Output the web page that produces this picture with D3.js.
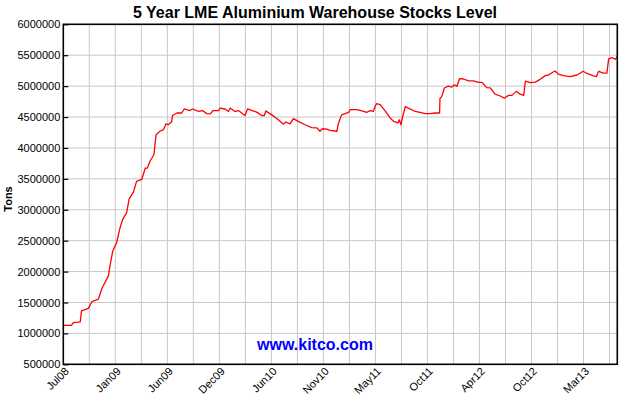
<!DOCTYPE html>
<html>
<head>
<meta charset="utf-8">
<script src="https://cdn.jsdelivr.net/npm/d3@7"></script>
<style>
  body { margin: 0; background: #fff; }
  svg { display: block; font-family: "Liberation Sans", Arial, sans-serif; }
</style>
</head>
<body>
<svg id="chart" width="630" height="400"></svg>
<script>
// trading-day index (60 per grid column) and stock level in tons
const days = [
  0, 19, 23, 39, 42, 58, 66, 81, 89, 104, 109, 114, 123, 131, 137, 146, 152, 162, 169, 181,
  189, 194, 200, 209, 214, 223, 231, 237, 242, 250, 252, 262, 273, 279, 292, 298, 312, 321, 331, 339,
  346, 358, 362, 373, 381, 385, 396, 404, 419, 425, 436, 446, 458, 464, 467, 481, 496, 508, 513, 523,
  531, 542, 558, 573, 585, 592, 598, 608, 615, 631, 635, 642, 650, 658, 662, 677, 689, 700, 708, 715,
  722, 731, 742, 754, 762, 772, 775, 779, 783, 789, 796, 812, 823, 835, 846, 858, 868, 869, 873, 879,
  888, 896, 902, 908, 914, 923, 935, 946, 958, 966, 977, 985, 996, 1008, 1017, 1027, 1035, 1045, 1054, 1062,
  1066, 1077, 1089, 1100, 1112, 1119, 1134, 1142, 1154, 1169, 1185, 1199, 1208, 1223, 1230, 1235, 1246, 1254, 1258, 1266,
  1273, 1278
];
const tons = [
  1130000, 1130000, 1175000, 1185000, 1365000, 1405000, 1515000, 1555000, 1725000, 1930000,
  2145000, 2330000, 2470000, 2710000, 2845000, 2950000, 3175000, 3290000, 3460000, 3490000,
  3675000, 3675000, 3785000, 3890000, 4215000, 4270000, 4295000, 4390000, 4375000, 4425000,
  4525000, 4565000, 4565000, 4630000, 4605000, 4630000, 4590000, 4605000, 4555000, 4550000,
  4605000, 4605000, 4645000, 4630000, 4590000, 4645000, 4590000, 4605000, 4525000, 4630000,
  4605000, 4580000, 4525000, 4525000, 4600000, 4535000, 4455000, 4385000, 4420000, 4390000,
  4475000, 4430000, 4375000, 4330000, 4325000, 4270000, 4310000, 4305000, 4285000, 4270000,
  4405000, 4535000, 4555000, 4575000, 4620000, 4620000, 4600000, 4575000, 4605000, 4590000,
  4715000, 4700000, 4605000, 4485000, 4430000, 4405000, 4455000, 4375000, 4510000, 4670000,
  4645000, 4590000, 4575000, 4555000, 4555000, 4565000, 4565000, 4805000, 4830000, 4970000,
  5000000, 4985000, 5020000, 4995000, 5120000, 5115000, 5085000, 5085000, 5060000, 5060000,
  4975000, 4970000, 4870000, 4840000, 4805000, 4850000, 4850000, 4915000, 4870000, 4850000,
  5080000, 5055000, 5065000, 5110000, 5170000, 5180000, 5245000, 5195000, 5170000, 5155000,
  5180000, 5240000, 5205000, 5165000, 5155000, 5240000, 5210000, 5210000, 5440000, 5460000,
  5435000, 5475000
];
const monthLabels = ["Jul08", "Jan09", "Jun09", "Dec09", "Jun10", "Nov10", "May11", "Oct11", "Apr12", "Oct12", "Mar13"];
const yTicks = [500000, 1000000, 1500000, 2000000, 2500000, 3000000, 3500000, 4000000, 4500000, 5000000, 5500000, 6000000];

const margin = { top: 24.3, right: 12.7, bottom: 35.7, left: 63.3 };
const W = 630, H = 400;
const svg = d3.select("#chart");

const x = d3.scaleLinear().domain([0, 1278]).range([margin.left, W - margin.right]);
const y = d3.scaleLinear().domain([500000, 6000000]).range([H - margin.bottom, margin.top]);

// grid
const vGrid = d3.range(60, 1278, 60);
svg.append("g").selectAll("line").data(vGrid).join("line")
  .attr("x1", d => x(d)).attr("x2", d => x(d))
  .attr("y1", y(6000000)).attr("y2", y(500000))
  .attr("stroke", "#c8c8c8").attr("stroke-width", 1);
svg.append("g").selectAll("line").data(yTicks.slice(1, -1)).join("line")
  .attr("x1", x(0)).attr("x2", x(1278))
  .attr("y1", d => y(d)).attr("y2", d => y(d))
  .attr("stroke", "#c8c8c8").attr("stroke-width", 1);

// title
svg.append("text")
  .attr("x", 315).attr("y", 18)
  .attr("text-anchor", "middle")
  .attr("font-size", 16).attr("font-weight", "bold")
  .text("5 Year LME Aluminium Warehouse Stocks Level");

// watermark
svg.append("text")
  .attr("x", 315).attr("y", 350)
  .attr("text-anchor", "middle")
  .attr("font-size", 16).attr("font-weight", "bold")
  .attr("fill", "#0000ff")
  .text("www.kitco.com");

// the line
const pts = days.map((d, i) => [d, tons[i]]);
svg.append("path")
  .datum(pts)
  .attr("fill", "none")
  .attr("stroke", "#ff0000")
  .attr("stroke-width", 1.3)
  .attr("stroke-linejoin", "round")
  .attr("d", d3.line().x(d => x(d[0])).y(d => y(d[1])));

// frame
svg.append("rect")
  .attr("x", x(0)).attr("y", y(6000000))
  .attr("width", x(1278) - x(0)).attr("height", y(500000) - y(6000000))
  .attr("fill", "none").attr("stroke", "#000").attr("stroke-width", 1.6);

// y axis, ticks pointing in
const yAxis = svg.append("g")
  .attr("transform", `translate(${x(0)},0)`)
  .call(d3.axisRight(y).tickValues(yTicks).tickSize(5).tickFormat(d3.format("d")));
yAxis.select(".domain").remove();
yAxis.selectAll(".tick line").attr("stroke", "#000").attr("stroke-width", 1.2);
yAxis.selectAll(".tick text")
  .attr("x", -3).attr("text-anchor", "end")
  .attr("font-size", 11).attr("fill", "#000")
  .style("font-family", "Liberation Sans, Arial, sans-serif");

// x axis labels
const xAxis = svg.append("g")
  .attr("transform", `translate(0,${y(500000)})`)
  .call(d3.axisBottom(x).tickValues(d3.range(0, 1201, 120)).tickSize(0)
    .tickFormat((d, i) => monthLabels[i]));
xAxis.select(".domain").remove();
xAxis.selectAll(".tick text")
  .attr("text-anchor", "end")
  .attr("font-size", 11).attr("fill", "#000")
  .style("font-family", "Liberation Sans, Arial, sans-serif")
  .attr("transform", "translate(3,5) rotate(-45)")
  .attr("dy", "0.35em").attr("y", 0).attr("x", 0);

// y axis title
svg.append("text")
  .attr("transform", "translate(12,199) rotate(-90)")
  .attr("text-anchor", "middle")
  .attr("font-size", 11).attr("font-weight", "bold")
  .text("Tons");
</script>
</body>
</html>
